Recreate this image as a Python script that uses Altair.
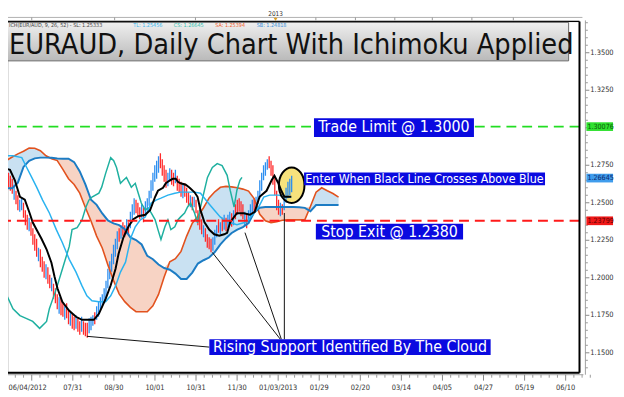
import altair as alt
import pandas as pd

FONT = "DejaVu Sans Condensed, Liberation Sans, sans-serif"

# ---------------- data ----------------
bar_start = -9
bar_high = [1.276, 1.275, 1.272, 1.273, 1.270, 1.268, 1.266, 1.262, 1.258, 1.255,
            1.252, 1.253, 1.250, 1.245, 1.242, 1.240, 1.237, 1.233, 1.229, 1.226,
            1.220, 1.219, 1.214, 1.211, 1.209, 1.207, 1.202, 1.200, 1.196, 1.193,
            1.189, 1.187, 1.186, 1.183, 1.181, 1.183, 1.179, 1.178, 1.176, 1.174,
            1.175, 1.173, 1.171, 1.174, 1.171, 1.170, 1.170, 1.173, 1.174, 1.175,
            1.177, 1.181, 1.184, 1.187, 1.189, 1.193, 1.198, 1.206, 1.211, 1.216,
            1.222, 1.226, 1.231, 1.233, 1.235, 1.237, 1.235, 1.239, 1.237, 1.244,
            1.249, 1.253, 1.252, 1.250, 1.247, 1.249, 1.247, 1.251, 1.253, 1.258,
            1.265, 1.270, 1.275, 1.278, 1.281, 1.283, 1.279, 1.275, 1.272, 1.270,
            1.273, 1.272, 1.270, 1.272, 1.268, 1.266, 1.264, 1.262, 1.263, 1.260,
            1.257, 1.255, 1.254, 1.254, 1.252, 1.245, 1.242, 1.239, 1.235, 1.233,
            1.229, 1.227, 1.226, 1.227, 1.232, 1.235, 1.239, 1.237, 1.240, 1.242,
            1.240, 1.242, 1.244, 1.243, 1.245, 1.249, 1.252, 1.253, 1.251, 1.249,
            1.244, 1.243, 1.245, 1.249, 1.252, 1.253, 1.254, 1.258, 1.265, 1.270,
            1.275, 1.277, 1.279, 1.281, 1.278, 1.275, 1.268, 1.258, 1.252, 1.250,
            1.249, 1.255, 1.260, 1.264, 1.266, 1.268]
bar_low = [1.266, 1.265, 1.262, 1.264, 1.260, 1.258, 1.256, 1.252, 1.249, 1.245,
           1.244, 1.245, 1.240, 1.235, 1.232, 1.231, 1.228, 1.222, 1.218, 1.214,
           1.211, 1.207, 1.204, 1.200, 1.199, 1.196, 1.193, 1.191, 1.186, 1.183,
           1.179, 1.176, 1.175, 1.174, 1.172, 1.173, 1.169, 1.168, 1.166, 1.165,
           1.166, 1.164, 1.162, 1.164, 1.162, 1.161, 1.160, 1.163, 1.165, 1.168,
           1.169, 1.172, 1.174, 1.178, 1.181, 1.183, 1.187, 1.193, 1.199, 1.204,
           1.209, 1.214, 1.219, 1.224, 1.226, 1.228, 1.227, 1.229, 1.228, 1.233,
           1.237, 1.242, 1.243, 1.241, 1.239, 1.240, 1.237, 1.241, 1.244, 1.248,
           1.253, 1.258, 1.264, 1.266, 1.270, 1.273, 1.268, 1.264, 1.260, 1.261,
           1.264, 1.262, 1.261, 1.263, 1.258, 1.257, 1.254, 1.253, 1.254, 1.250,
           1.248, 1.247, 1.245, 1.247, 1.243, 1.235, 1.232, 1.229, 1.227, 1.224,
           1.220, 1.219, 1.217, 1.218, 1.222, 1.227, 1.230, 1.229, 1.231, 1.232,
           1.231, 1.233, 1.235, 1.234, 1.235, 1.239, 1.242, 1.244, 1.241, 1.239,
           1.235, 1.233, 1.236, 1.240, 1.243, 1.244, 1.245, 1.249, 1.253, 1.258,
           1.265, 1.268, 1.272, 1.273, 1.268, 1.262, 1.255, 1.245, 1.242, 1.241,
           1.242, 1.245, 1.250, 1.253, 1.255, 1.257]
bar_dir = ("d d u d d d d u d d  u u d d d u d d d d  u d d d u d d u d d  "
           "d u d d u d d u d d  u d d u d d d u u u  d u u u u u u u u u  "
           "u u u d u d d u d u  u u d d d u d u u u  u u u u u d d d d u  "
           "u d d u d d d u d d  d u d u d d d d u d  d d d u u u d u d u  "
           "d u u d u d d d d d  u d u u u d u u u u  u u u d d d d d d u  "
           "d u u u u u").split()

cloud_index = list(range(-9, 172, 3))
senkou_a = [1.2765, 1.2783, 1.2805, 1.2826, 1.2843, 1.2864, 1.2863, 1.2847, 1.2813, 1.2793,
            1.2781, 1.2723, 1.2660, 1.2622, 1.2564, 1.2469, 1.2379, 1.2278, 1.2199, 1.2086,
            1.1983, 1.1893, 1.1841, 1.1803, 1.1774, 1.1774, 1.1774, 1.1813, 1.1889, 1.2006,
            1.2107, 1.2127, 1.2176, 1.2278, 1.2364, 1.2410, 1.2467, 1.2532, 1.2573, 1.2603,
            1.2609, 1.2606, 1.2600, 1.2591, 1.2578, 1.2528, 1.2423, 1.2380, 1.2368, 1.2373,
            1.2384, 1.2386, 1.2386, 1.2386, 1.2386, 1.2475, 1.2571, 1.2600, 1.2580, 1.2562,
            1.2538]
senkou_b = [1.2597, 1.2597, 1.2597, 1.2634, 1.2739, 1.2779, 1.2796, 1.2801, 1.2801, 1.2800,
            1.2795, 1.2794, 1.2794, 1.2771, 1.2709, 1.2623, 1.2520, 1.2486, 1.2429, 1.2382,
            1.2363, 1.2351, 1.2324, 1.2269, 1.2252, 1.2222, 1.2146, 1.2124, 1.2088, 1.2065,
            1.2054, 1.2028, 1.1992, 1.1992, 1.2035, 1.2095, 1.2117, 1.2135, 1.2172, 1.2223,
            1.2264, 1.2299, 1.2321, 1.2338, 1.2365, 1.2435, 1.2467, 1.2472, 1.2472, 1.2472,
            1.2472, 1.2472, 1.2472, 1.2470, 1.2466, 1.2444, 1.2485, 1.2485, 1.2485, 1.2485,
            1.2485]

kijun_i = [-9.5, -4.2, -1.6, 1.1, 3.7, 6.3, 7.9, 10, 12.6, 15.3, 17.9, 19.5, 21.1, 23.7, 27.4, 31,
           34.2, 37.9, 40.5, 43.2, 46.8, 49.5, 52.1, 53.7, 56.3, 58.9, 61.6, 64.2, 67.9, 70.5,
           73.2, 74.7, 77.4, 78.9, 81.1, 82.6, 84.2, 85.3, 86.8, 89.5, 91.6, 94.2, 95.8, 97.4,
           99.5, 102.1, 104.7, 107.4, 110, 111.6, 113.2, 116.8, 120.5, 123.7, 126.3, 128.9,
           132.6, 135.3, 136.8, 138.9, 140.5, 142.1, 144.2, 145.8]
kijun_p = [1.274, 1.272, 1.265, 1.254, 1.252, 1.243, 1.237, 1.232, 1.226, 1.219, 1.210, 1.201,
           1.193, 1.184, 1.178, 1.174, 1.172, 1.172, 1.172, 1.176, 1.186, 1.195, 1.206, 1.216,
           1.227, 1.234, 1.239, 1.241, 1.242, 1.245, 1.254, 1.258, 1.260, 1.263, 1.265, 1.266,
           1.266, 1.264, 1.263, 1.262, 1.260, 1.257, 1.254, 1.245, 1.237, 1.232, 1.229, 1.228,
           1.229, 1.230, 1.237, 1.243, 1.243, 1.242, 1.244, 1.254, 1.258, 1.265, 1.268, 1.263,
           1.258, 1.254, 1.254, 1.254]

tenkan_i = [-9.5, -2.6, 2.1, 4.7, 7.4, 10, 13.2, 16.8, 20.5, 23.7, 27.4, 31, 34.2, 36.8, 39.5,
            43.2, 46.8, 49.5, 52.1, 54.7, 57.4, 58.9, 60.5, 62.6, 65.3, 67.9, 69.5, 71.1, 73.7,
            76.3, 80, 83.7, 86.8, 90.5, 94.2, 97.4, 101.1, 104.7, 107.9, 111.6, 116.8, 122.1,
            125.8, 128.4, 131.1, 134.2, 138.9, 143.2, 145.8]
tenkan_p = [1.2814, 1.2814, 1.2801, 1.2735, 1.2669, 1.2604, 1.2518, 1.2432, 1.2321, 1.2235,
            1.2123, 1.2038, 1.1946, 1.1880, 1.1847, 1.1840, 1.1840, 1.1880, 1.1946, 1.2038,
            1.2104, 1.2189, 1.2275, 1.2340, 1.2386, 1.2406, 1.2452, 1.2498, 1.2518, 1.2531,
            1.2551, 1.2564, 1.2571, 1.2571, 1.2571, 1.2564, 1.2505, 1.2452, 1.2406, 1.2373,
            1.2353, 1.2373, 1.2432, 1.2472, 1.2538, 1.2551, 1.2551, 1.2538, 1.2538]

chikou_i = [-9.5, -5.8, -2.6, 1.1, 4.7, 7.9, 11.6, 15.3, 16.8, 20.5, 23.7, 27.4, 28.9, 31.6,
            34.2, 36.3, 37.9, 39.5, 43.2, 44.7, 46.8, 49.5, 51.1, 52.6, 54.7, 56.3, 57.9, 60.5,
            62.6, 64.2, 65.8, 67.9, 69.5, 71.1, 73.2, 74.7, 76.3, 78.4, 80, 81.6, 83.7, 85.3,
            86.8, 88.9, 90.5, 92.1, 94.2, 95.8, 97.4, 99.5, 101.1, 103.7, 106.3, 108.9, 111.6,
            113.2, 115.3, 116.8, 118.4, 119.5]
chikou_p = [1.2038, 1.1880, 1.1794, 1.1748, 1.1728, 1.1709, 1.1663, 1.1709, 1.1794, 1.1926,
            1.2057, 1.2209, 1.2321, 1.2334, 1.2386, 1.2472, 1.2518, 1.2538, 1.2564, 1.2604,
            1.2696, 1.2801, 1.2781, 1.2735, 1.2630, 1.2650, 1.2669, 1.2604, 1.2630, 1.2564,
            1.2498, 1.2452, 1.2465, 1.2432, 1.2386, 1.2321, 1.2255, 1.2340, 1.2386, 1.2321,
            1.2340, 1.2386, 1.2406, 1.2432, 1.2472, 1.2498, 1.2432, 1.2367, 1.2472, 1.2584,
            1.2669, 1.2735, 1.2761, 1.2748, 1.2683, 1.2584, 1.2472, 1.2584, 1.2650, 1.2669]

trade_limit = 1.30076
stop_exit = 1.23799
last_close = 1.26645

x_label_pos = [-5.0, 29.3, 51.2, 73.1, 95.0, 116.9, 138.8, 160.7, 182.6, 204.5, 226.4,
               248.3, 270.2, 292.1]
x_labels = ["06/04/2012", "07/31", "08/30", "10/01", "10/31", "11/30", "01/03/2013",
            "01/29", "02/20", "03/14", "04/05", "04/27", "05/19", "06/10"]
x_major_ticks = [7.4, 29.3, 51.2, 73.1, 95.0, 116.9, 138.8, 160.7, 182.6, 204.5, 226.4,
                 248.3, 270.2, 292.1]
top_ticks = [7.4, 51.6, 94.7, 137.4, 158.9, 180.0, 201.0, 221.0, 242.1, 264.2]
year_mark = 137.4
y_ticks = [1.15, 1.175, 1.2, 1.225, 1.25, 1.275, 1.3, 1.325, 1.35]
# 1.3000 is hidden under the green price tag in the picture
y_label_pos = [1.15, 1.175, 1.2, 1.225, 1.25, 1.275, 1.325, 1.35]
y_label_text = ["1.1500", "1.1750", "1.2000", "1.2250", "1.2500", "1.2750", "1.3250", "1.3500"]

legend_parts = ["ICH(EUR/AUD, 9, 26, 52) -  SL: 1.25333", "TL: 1.25456", "CS: 1.26645",
                "SA: 1.25394", "SB: 1.24818"]
legend_colors = ["#404040", "#35b6ee", "#2ebfae", "#f05a28", "#3a8fd8"]
legend_x = [1, 127, 168, 210, 252]

# annotation boxes: (x1, x2, y1, y2, cx, cy, text, font size)
boxes = [
    (157.9, 243.2, 1.3064, 1.2939, 200.5, 1.3002, "Trade Limit @ 1.3000", 16),
    (152.6, 281.1, 1.2702, 1.2617, 216.8, 1.2659, "Enter When Black Line Crosses Above Blue", 12.5),
    (158.9, 237.4, 1.2360, 1.2255, 198.2, 1.2307, "Stop Exit  @ 1.2380", 16),
    (102.1, 252.1, 1.1590, 1.1485, 177.1, 1.1537, "Rising Support Identified By The Cloud", 16),
]
callouts = [
    (36.8, 1.1610, 102.1, 1.1538),
    (103.7, 1.2169, 140.0, 1.1590),
    (121.1, 1.2301, 140.5, 1.1590),
    (142.1, 1.2432, 142.1, 1.1590),
]
ellipse_center = (146.0, 1.2617)
tags = [(trade_limit, "1.30076", "#2fe02f", "#0a5a0a"),
        (last_close, "1.26645", "#3f9cec", "#0a2a70"),
        (stop_exit, "1.23799", "#f01818", "#5a0000")]

# ---------------- chart ----------------
W, H = 579, 356
xs = alt.Scale(domain=[-5.263, 299.474], nice=False, zero=False)
ys = alt.Scale(domain=[1.1367, 1.3709], nice=False, zero=False)


def X(f="i"):
    return alt.X(f"{f}:Q", scale=xs, axis=None)


def Y(f):
    return alt.Y(f"{f}:Q", scale=ys, axis=None)


bars = pd.DataFrame({"i": list(range(bar_start, bar_start + len(bar_high))),
                     "hi": bar_high, "lo": bar_low, "dir": bar_dir})
cloud = pd.DataFrame({"i": cloud_index, "sa": senkou_a, "sb": senkou_b})
cloud["top"] = cloud[["sa", "sb"]].max(axis=1)
kijun = pd.DataFrame({"i": kijun_i, "p": kijun_p})
tenkan = pd.DataFrame({"i": tenkan_i, "p": tenkan_p})
chikou = pd.DataFrame({"i": chikou_i, "p": chikou_p})
one = pd.DataFrame({"k": [0]})

layers = []

# cloud fills
layers.append(alt.Chart(cloud).mark_area(color="#c9e1f2", clip=True).encode(
    x=X(), y=Y("sb"), y2="top:Q"))
layers.append(alt.Chart(cloud).mark_area(color="#f7d3c4", clip=True).encode(
    x=X(), y=Y("sa"), y2="top:Q"))

# ellipse fill (under the price)
ell = pd.DataFrame({"i": [ellipse_center[0]], "p": [ellipse_center[1]]})
ELL = "M -0.72 0 A 0.72 1 0 1 0 0.72 0 A 0.72 1 0 1 0 -0.72 0 Z"
layers.append(alt.Chart(ell).mark_point(shape=ELL, size=1296, filled=True, color="#f7e27c",
                                        opacity=1).encode(x=X(), y=Y("p")))

# candles
layers.append(alt.Chart(bars).mark_rule(strokeWidth=1.3, clip=True).encode(
    x=X(), y=Y("lo"), y2="hi:Q",
    color=alt.Color("dir:N", scale=alt.Scale(domain=["u", "d"], range=["#2d8ff0", "#ff2a2a"]),
                    legend=None)))

# ichimoku lines
layers.append(alt.Chart(cloud).mark_line(color="#e2521e", strokeWidth=1.6, clip=True).encode(
    x=X(), y=Y("sa")))
layers.append(alt.Chart(cloud).mark_line(color="#1c7cc4", strokeWidth=2, clip=True).encode(
    x=X(), y=Y("sb")))
layers.append(alt.Chart(chikou).mark_line(color="#1fb0a0", strokeWidth=1.5, clip=True).encode(
    x=X(), y=Y("p")))
layers.append(alt.Chart(tenkan).mark_line(color="#2ab3f0", strokeWidth=1.5, clip=True).encode(
    x=X(), y=Y("p")))
layers.append(alt.Chart(kijun).mark_line(color="#000000", strokeWidth=2, clip=True).encode(
    x=X(), y=Y("p")))

# dashed levels
layers.append(alt.Chart(pd.DataFrame({"p": [trade_limit]})).mark_rule(
    color="#22dd22", strokeWidth=2, strokeDash=[10, 6]).encode(y=Y("p")))
layers.append(alt.Chart(pd.DataFrame({"p": [stop_exit]})).mark_rule(
    color="#ff1a1a", strokeWidth=2, strokeDash=[10, 6]).encode(y=Y("p")))

# callout lines
cl = pd.DataFrame(callouts, columns=["x1", "y1", "x2", "y2"])
layers.append(alt.Chart(cl).mark_rule(color="#111", strokeWidth=1).encode(
    x=X("x1"), y=Y("y1"), x2="x2:Q", y2="y2:Q"))

# ellipse outline
layers.append(alt.Chart(ell).mark_point(shape=ELL, size=1296, filled=False, color="#000",
                                        strokeWidth=2, opacity=1).encode(x=X(), y=Y("p")))

# annotation boxes
bx = pd.DataFrame(boxes, columns=["x1", "x2", "y1", "y2", "cx", "cy", "t", "fs"])
layers.append(alt.Chart(bx).mark_rect(color="#0a0ae0").encode(
    x=X("x1"), x2="x2:Q", y=Y("y1"), y2="y2:Q"))
for fs in sorted(set(bx["fs"])):
    layers.append(alt.Chart(bx[bx["fs"] == fs]).mark_text(
        color="white", font=FONT, fontSize=float(fs), align="center", baseline="middle").encode(
        x=X("cx"), y=Y("cy"), text="t:N"))

# frame
layers.append(alt.Chart(one).mark_rule(color="#000", strokeWidth=1.5).encode(
    x=alt.value(0), x2=alt.value(W), y=alt.value(0)))
layers.append(alt.Chart(one).mark_rule(color="#000", strokeWidth=2).encode(
    x=alt.value(W), y=alt.value(0), y2=alt.value(H)))
layers.append(alt.Chart(one).mark_rule(color="#000", strokeWidth=2).encode(
    x=alt.value(0), x2=alt.value(W), y=alt.value(H)))

# bottom axis: line, ticks, labels
layers.append(alt.Chart(one).mark_rule(color="#a0a0a0", strokeWidth=1).encode(
    x=alt.value(0), x2=alt.value(W + 4), y=alt.value(H + 2)))
minor_x = []
for a, b in zip(x_major_ticks[:-1], x_major_ticks[1:]):
    minor_x += [a + (b - a) * k / 5 for k in range(1, 5)]
step = (x_major_ticks[1] - x_major_ticks[0]) / 5
minor_x += [x_major_ticks[-1] + step * k for k in range(1, 4)]
minor_x += [x_major_ticks[0] - step * k for k in range(1, 3)]
layers.append(alt.Chart(pd.DataFrame({"i": x_major_ticks})).mark_rule(
    color="#888", strokeWidth=1).encode(x=X(), y=alt.value(H + 2), y2=alt.value(H + 8)))
layers.append(alt.Chart(pd.DataFrame({"i": minor_x})).mark_rule(
    color="#999", strokeWidth=1).encode(x=X(), y=alt.value(H + 2), y2=alt.value(H + 5)))
xl = pd.DataFrame({"i": x_label_pos, "t": x_labels})
layers.append(alt.Chart(xl.iloc[:1]).mark_text(
    font=FONT, fontSize=7.5, color="#333", align="left", baseline="middle").encode(
    x=X(), y=alt.value(H + 15), text="t:N"))
layers.append(alt.Chart(xl.iloc[1:]).mark_text(
    font=FONT, fontSize=7.5, color="#333", align="center", baseline="middle").encode(
    x=X(), y=alt.value(H + 15), text="t:N"))

# right axis: line, ticks, labels
layers.append(alt.Chart(one).mark_rule(color="#a0a0a0", strokeWidth=1).encode(
    x=alt.value(W + 6), y=alt.value(-1), y2=alt.value(H + 2)))
minor_y = [round(1.140 + 0.005 * k, 3) for k in range(0, 47)]
minor_y = [v for v in minor_y if all(abs(v - m) > 1e-6 for m in y_ticks)]
layers.append(alt.Chart(pd.DataFrame({"p": minor_y})).mark_rule(
    color="#999", strokeWidth=1).encode(y=Y("p"), x=alt.value(W + 6), x2=alt.value(W + 8.5)))
layers.append(alt.Chart(pd.DataFrame({"p": y_ticks})).mark_rule(color="#888", strokeWidth=1).encode(
    y=Y("p"), x=alt.value(W + 6), x2=alt.value(W + 10)))
yl = pd.DataFrame({"p": y_label_pos, "t": y_label_text})
layers.append(alt.Chart(yl).mark_text(
    font=FONT, fontSize=7.5, color="#333", align="left", baseline="middle").encode(
    x=alt.value(W + 11), y=Y("p"), text="t:N"))

# right price tags
tg = pd.DataFrame(tags, columns=["p", "t", "bg", "fg"])
tg["p1"] = tg["p"] + 0.0029
tg["p2"] = tg["p"] - 0.0029
layers.append(alt.Chart(tg).mark_rect().encode(
    x=alt.value(W + 7), x2=alt.value(W + 34), y=Y("p1"), y2="p2:Q",
    color=alt.Color("bg:N", scale=None)))
layers.append(alt.Chart(tg).mark_text(font=FONT, fontSize=7.2, align="left", baseline="middle").encode(
    x=alt.value(W + 8), y=Y("p"), text="t:N", color=alt.Color("fg:N", scale=None)))

# top strip
layers.append(alt.Chart(one).mark_rule(color="#b0b0b0", strokeWidth=1).encode(
    x=alt.value(-8), x2=alt.value(W + 3), y=alt.value(-4)))
layers.append(alt.Chart(pd.DataFrame({"i": top_ticks})).mark_rule(
    color="#999", strokeWidth=1).encode(x=X(), y=alt.value(-4), y2=alt.value(-1)))
layers.append(alt.Chart(pd.DataFrame({"i": [year_mark], "t": ["2013"]})).mark_text(
    font=FONT, fontSize=6.5, color="#333", align="center", baseline="middle").encode(
    x=X(), y=alt.value(-7.5), text="t:N"))
layers.append(alt.Chart(pd.DataFrame({"i": [year_mark]})).mark_point(
    shape="triangle-down", filled=True, color="#e0a020", size=16, opacity=1).encode(
    x=X(), y=alt.value(-2)))

# title box
grad = alt.LinearGradient(gradient="linear",
                          stops=[alt.GradientStop(color="#efefef", offset=0),
                                 alt.GradientStop(color="#b9b9b9", offset=1)],
                          x1=0, x2=0, y1=0, y2=1)
layers.append(alt.Chart(one).mark_rect(color=grad, stroke="#6a6a6a", strokeWidth=1).encode(
    x=alt.value(-8), x2=alt.value(568), y=alt.value(1), y2=alt.value(40)))
for t, c, xx in zip(legend_parts, legend_colors, legend_x):
    layers.append(alt.Chart(pd.DataFrame({"t": [t]})).mark_text(
        font=FONT, fontSize=5.5, color=c, align="left", baseline="middle").encode(
        x=alt.value(xx), y=alt.value(3.2), text="t:N"))
layers.append(alt.Chart(pd.DataFrame({"t": ["EURAUD, Daily Chart With Ichimoku Applied"]})).mark_text(
    font=FONT, fontSize=29, color="#111", align="left", baseline="alphabetic").encode(
    x=alt.value(1), y=alt.value(33.5), text="t:N"))

chart = alt.layer(*layers).properties(
    width=W, height=H,
    autosize=alt.AutoSizeParams(type="none"),
    padding={"left": 0, "top": 11, "right": 37, "bottom": 22},
).configure_view(strokeWidth=0).configure(background="white")

chart.save("out.html", embed_options={"renderer": "svg", "actions": False})
